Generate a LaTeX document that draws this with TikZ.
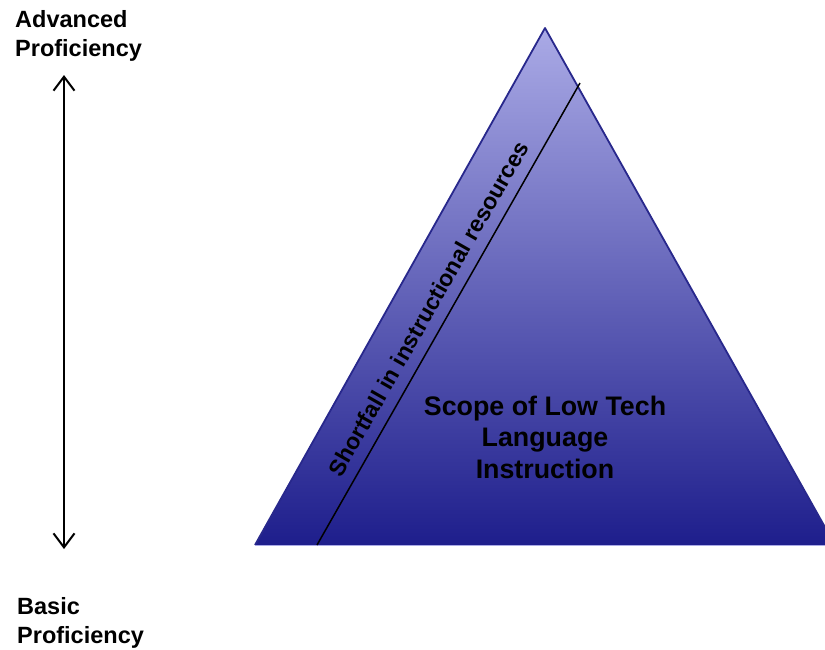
\documentclass[tikz,border=0pt]{standalone}
\usepackage{fontspec}
\setmainfont{Liberation Sans}
\usetikzlibrary{arrows.meta}
\definecolor{pyrtop}{RGB}{170,170,230}
\definecolor{pyrmid}{RGB}{140,140,210}
\definecolor{pyrbot}{RGB}{30,30,140}
\definecolor{pyredge}{RGB}{40,40,140}
\tikzset{
  levellabel/.style = {align=left, inner sep=0pt,
                       font=\fontsize{23.5}{29}\selectfont\bfseries},
  scopelabel/.style = {align=center, inner sep=0pt,
                       font=\fontsize{26.8}{31.5}\selectfont\bfseries},
  gaplabel/.style   = {inner sep=0pt, font=\fontsize{23}{28}\selectfont\bfseries},
  pyramid/.style    = {top color=pyrtop, middle color=pyrmid, bottom color=pyrbot},
  barb/.style       = {line width=2pt,
                       {Straight Barb[length=14pt,width=21pt]}-{Straight Barb[length=14pt,width=21pt]}}
}

\begin{document}
\begin{tikzpicture}
  [
    x          = 1pt,
    y          = -1pt,
    line join  = round
  ]
  \useasboundingbox (0,0) rectangle (825,649);
  \clip (0,0) rectangle (825,649);
  \coordinate (apex)  at (545,28);
  \coordinate (baseL) at (255,545);
  \coordinate (baseR) at (835,545);
  \fill [pyramid] (apex) -- (baseR) -- (baseL) -- cycle;
  \draw [pyredge, line width=1.8pt] (baseL) -- (apex) -- (baseR);
  \draw [pyrtop, line width=1pt] (baseL) -- (baseR);
  \coordinate (gapbot) at (317,545);
  \coordinate (gaptop) at (580,83);
  \draw [line width=1.5pt] (gapbot) -- (gaptop)
    node [gaplabel, pos=0.49, sloped, above=11pt] {Shortfall in instructional resources};
  \node [scopelabel] (scope) at (545,437) {Scope of Low Tech\\Language\\Instruction};
  \node [levellabel, anchor=north west] (advanced) at (15,10) {Advanced\\Proficiency};
  \node [levellabel, anchor=north west] (basic) at (17,597) {Basic\\Proficiency};
  \coordinate (advtip)   at (64,75);
  \coordinate (basictip) at (64,549);
  \draw [barb] (advtip) -- (basictip);
\end{tikzpicture}
\end{document}
